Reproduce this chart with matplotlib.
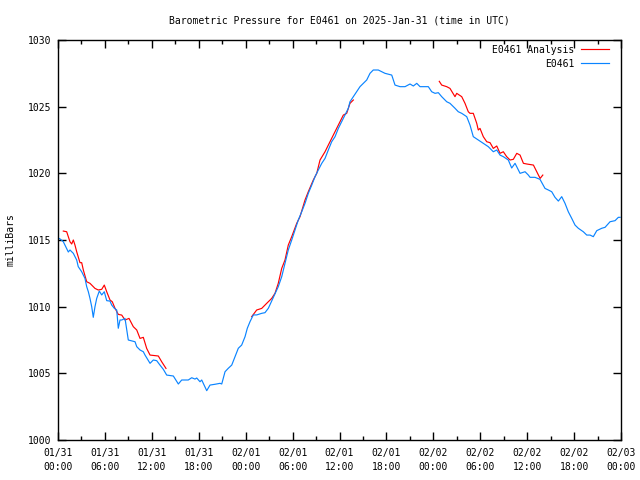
import numpy as np
import matplotlib
matplotlib.use("Agg")
import matplotlib.pyplot as plt
import matplotlib.dates as mdates
from datetime import datetime, timedelta

# E0461 observations: hours since 2025-01-31 00:00 UTC, pressure (mbar)
obs_hours = [0.0, 0.26, 0.68, 1.32, 1.53, 1.96, 2.39, 2.59, 3.03, 3.45, 3.67, 3.88, 4.09, 4.31, 4.51,
             4.73, 4.95, 5.28, 5.59, 5.92, 6.23, 6.65, 6.87, 7.20, 7.51, 7.71, 7.93, 8.15, 8.57, 8.79,
             8.99, 9.85, 10.07, 10.49, 10.91, 11.13, 11.77, 12.19, 12.62, 13.04, 13.47, 13.90, 14.75,
             15.39, 15.82, 16.66, 17.10, 17.52, 17.74, 18.16, 18.38, 19.02, 19.44, 20.08, 20.72, 20.94,
             21.36, 21.78, 22.22, 22.64, 23.06, 23.49, 23.92, 24.21, 24.56, 24.98, 25.41, 26.05, 26.47,
             26.90, 27.54, 28.17, 28.61, 29.03, 29.45, 29.89, 30.31, 30.73, 31.17, 31.59, 32.01, 32.45,
             32.87, 33.29, 33.73, 34.15, 34.57, 35.00, 35.43, 35.85, 36.28, 36.70, 37.13, 37.34, 37.77,
             38.20, 38.62, 39.05, 39.48, 39.90, 40.32, 40.96, 41.40, 41.82, 42.68, 43.10, 43.74, 44.38,
             45.02, 45.44, 45.88, 46.30, 47.36, 47.79, 48.22, 48.64, 49.07, 49.71, 50.13, 50.77, 51.19,
             51.63, 52.27, 52.69, 53.11, 53.75, 54.39, 55.03, 55.67, 56.11, 56.53, 56.95, 57.59, 58.02,
             58.45, 59.09, 59.73, 60.15, 60.37, 61.00, 61.64, 62.28, 62.71, 63.14, 63.56, 63.99, 64.42,
             64.84, 65.26, 65.70, 66.12, 66.54, 67.18, 67.62, 68.04, 68.46, 68.90, 69.54, 69.96, 70.60,
             71.24, 71.66, 71.88]
obs_vals = [1015.15, 1015.08, 1014.87, 1014.1, 1014.25, 1014.0, 1013.5, 1013.0, 1012.62, 1012.12, 1011.5,
            1011.12, 1010.62, 1010.0, 1009.2, 1010.0, 1010.62, 1011.17, 1010.88, 1011.12, 1010.45, 1010.42,
            1010.12, 1009.88, 1009.75, 1008.38, 1009.0, 1009.0, 1009.12, 1008.25, 1007.5, 1007.37, 1007.0,
            1006.75, 1006.62, 1006.37, 1005.75, 1006.0, 1005.95, 1005.62, 1005.3, 1004.87, 1004.8, 1004.2,
            1004.5, 1004.5, 1004.67, 1004.57, 1004.65, 1004.37, 1004.5, 1003.7, 1004.12, 1004.18, 1004.25,
            1004.2, 1005.12, 1005.38, 1005.62, 1006.25, 1006.88, 1007.12, 1007.75, 1008.38, 1008.88,
            1009.38, 1009.38, 1009.5, 1009.55, 1009.88, 1010.7, 1011.5, 1012.25, 1013.25, 1014.25, 1015.0,
            1015.75, 1016.5, 1017.12, 1017.75, 1018.5, 1019.12, 1019.75, 1020.25, 1020.75, 1021.12,
            1021.75, 1022.37, 1022.75, 1023.37, 1023.88, 1024.37, 1024.88, 1025.37, 1025.75, 1026.12,
            1026.5, 1026.75, 1027.0, 1027.5, 1027.75, 1027.75, 1027.62, 1027.5, 1027.37, 1026.62, 1026.5,
            1026.5, 1026.7, 1026.55, 1026.75, 1026.5, 1026.5, 1026.12, 1026.0, 1026.05, 1025.75, 1025.37,
            1025.25, 1024.88, 1024.62, 1024.5, 1024.25, 1023.62, 1022.75, 1022.5, 1022.25, 1022.0,
            1021.62, 1021.75, 1021.37, 1021.25, 1021.0, 1020.4, 1020.75, 1020.0, 1020.12, 1019.87, 1019.7,
            1019.7, 1019.55, 1018.87, 1018.75, 1018.62, 1018.2, 1017.92, 1018.25, 1017.75, 1017.12,
            1016.62, 1016.12, 1015.88, 1015.62, 1015.37, 1015.37, 1015.25, 1015.7, 1015.88, 1015.95,
            1016.37, 1016.45, 1016.7, 1016.7]

# E0461 Analysis (NaN marks gaps)
ana_hours = [0.68, 1.11, 1.53, 1.75, 1.96, 2.17, 2.39, 2.81, 3.03, 3.24, 3.67, 4.09, 4.73, 5.15, 5.59,
             5.92, 6.23, 6.65, 6.94, 7.29, 7.71, 8.15, 8.57, 9.08, 9.63, 10.07, 10.49, 10.91, 11.34,
             11.77, 12.83, 13.26, 13.81, 19.0,
             24.77, 25.41, 26.05, 26.69, 27.33, 27.75, 28.17, 28.61, 29.03, 29.45, 29.89, 30.53, 30.95,
             31.59, 32.01, 32.65, 33.09, 33.51, 34.15, 34.57, 35.21, 35.85, 36.49, 36.92, 37.34, 37.77,
             43.0,
             48.76, 49.07, 49.71, 50.13, 50.77, 50.99, 51.63, 52.05, 52.47, 52.69, 53.11, 53.55, 53.75,
             53.97, 54.39, 54.83, 55.25, 55.67, 56.11, 56.53, 56.95, 57.38, 57.81, 58.23, 58.67, 59.09,
             59.52, 59.95, 60.80, 61.44, 61.66, 62.0]
ana_vals = [1015.67, 1015.62, 1014.87, 1014.7, 1015.0, 1014.62, 1014.12, 1013.3, 1013.3, 1012.75, 1011.87,
            1011.75, 1011.37, 1011.25, 1011.3, 1011.62, 1011.12, 1010.5, 1010.37, 1009.88, 1009.42,
            1009.37, 1009.0, 1009.12, 1008.5, 1008.25, 1007.62, 1007.7, 1006.87, 1006.37, 1006.3,
            1005.87, 1005.37, np.nan,
            1009.25, 1009.75, 1009.87, 1010.25, 1010.62, 1011.0, 1011.75, 1012.87, 1013.5, 1014.62,
            1015.25, 1016.25, 1016.75, 1018.0, 1018.62, 1019.5, 1020.0, 1021.0, 1021.62, 1022.12,
            1022.87, 1023.62, 1024.37, 1024.5, 1025.25, 1025.5, np.nan,
            1026.9, 1026.62, 1026.5, 1026.37, 1025.75, 1026.0, 1025.75, 1025.25, 1024.62, 1024.5,
            1024.5, 1023.75, 1023.25, 1023.37, 1022.75, 1022.37, 1022.3, 1021.87, 1022.05, 1021.5,
            1021.62, 1021.25, 1021.0, 1021.05, 1021.5, 1021.37, 1020.75, 1020.7, 1020.62, 1019.87,
            1019.62, 1019.87]

start = datetime(2025, 1, 31, 0, 0)
obs_t = [start + timedelta(hours=h) for h in obs_hours]
ana_t = [start + timedelta(hours=h) for h in ana_hours]

FONT = "DejaVu Sans Mono"
FS = 7.0
plt.rcParams["font.family"] = FONT
plt.rcParams["font.size"] = FS

fig = plt.figure(figsize=(6.4, 4.8), dpi=100)
ax = fig.add_axes([58 / 640, 40 / 480, (621 - 58) / 640, 400 / 480])

ax.plot(ana_t, ana_vals, color="#ff0000", lw=0.85, label="E0461 Analysis")
ax.plot(obs_t, obs_vals, color="#0a84ff", lw=0.85, label="E0461")

ax.set_xlim(start, start + timedelta(hours=72))
ax.set_ylim(1000, 1030)
ax.set_yticks(np.arange(1000, 1031, 5))
ax.xaxis.set_major_locator(mdates.HourLocator(byhour=[0, 6, 12, 18]))
ax.xaxis.set_minor_locator(mdates.HourLocator(byhour=[3, 9, 15, 21]))
ax.xaxis.set_major_formatter(mdates.DateFormatter("%m/%d\n%H:%M"))

ax.tick_params(which="major", direction="in", length=6, width=1, top=True, right=True,
               labelsize=FS, pad=5, color="black")
ax.tick_params(which="minor", direction="in", length=3, width=1, top=True, right=True)
ax.tick_params(axis="x", pad=6)
for lbl in ax.get_xticklabels():
    lbl.set_linespacing(1.5)
for s in ax.spines.values():
    s.set_linewidth(1.0)

ax.set_title("Barometric Pressure for E0461 on 2025-Jan-31 (time in UTC)", fontsize=FS, pad=12)
ax.set_ylabel("milliBars", fontsize=FS, labelpad=9)

leg = ax.legend(loc="upper right", bbox_to_anchor=(0.9856, 0.998), frameon=False, markerfirst=False,
                fontsize=FS, handlelength=2.9, handletextpad=0.7, labelspacing=0.4, borderaxespad=0.0)

fig.savefig("out.png", dpi=100)
